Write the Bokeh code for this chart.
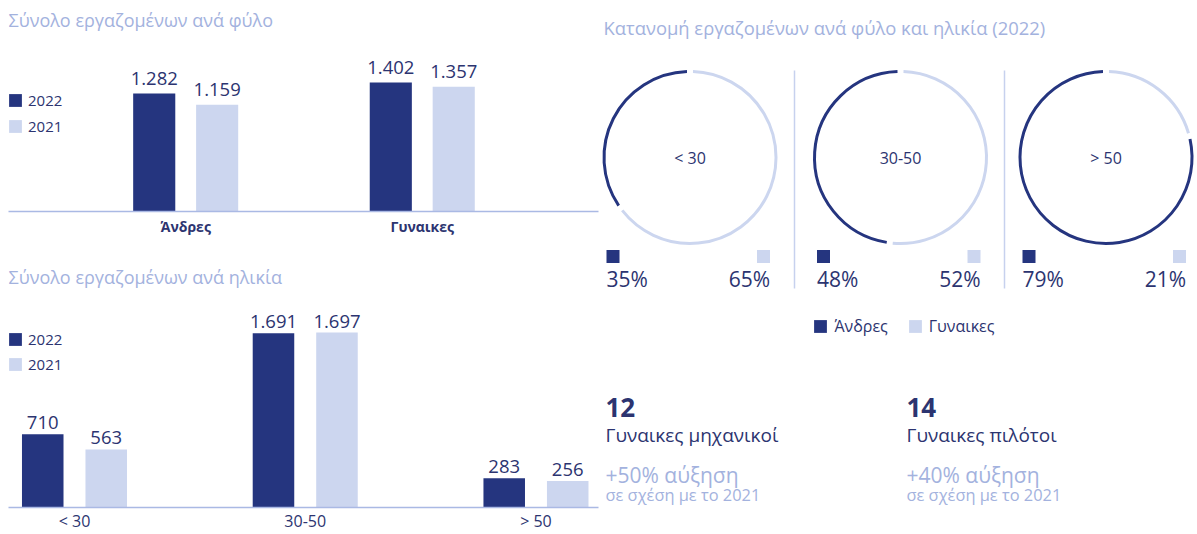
import math
from bokeh.plotting import figure
from bokeh.models import Range1d, FixedTicker, Legend, LegendItem, Label, ColumnDataSource
from bokeh.layouts import row, column
from bokeh.core.properties import value
from bokeh.embed import file_html
from bokeh.resources import INLINE

# ---------------- data ----------------
genders = ["Άνδρες", "Γυναικες"]
gender_2022 = [1282, 1402]
gender_2021 = [1159, 1357]

ages = ["< 30", "30-50", "> 50"]
age_2022 = [710, 1691, 283]
age_2021 = [563, 1697, 256]

years = ["2022", "2021"]

dist_groups = ["< 30", "30-50", "> 50"]
men_pct = [35, 48, 79]
women_pct = [65, 52, 21]
sex_labels = ["Άνδρες", "Γυναικες"]

highlight_values = [12, 14]
highlight_labels = ["Γυναικες μηχανικοί", "Γυναικες πιλότοι"]
highlight_growth = [50, 40]
compare_year = "2021"

title_gender = "Σύνολο εργαζομένων ανά φύλο"
title_age = "Σύνολο εργαζομένων ανά ηλικία"
title_dist = "Κατανομή εργαζομένων ανά φύλο και ηλικία (2022)"

# ---------------- style ----------------
FONT = "Open Sans"
DARK = "#25357f"
LIGHT = "#ccd6ef"
TEXT_DARK = "#2c3470"
TITLE = "#a3b2de"
AXIS = "#aab9e4"
SEP = "#c7d1ee"


def fmt(v):
    return f"{v:,}".replace(",", ".")


def bar_chart(cats, v22, v21, width, height, xr, y_end, off, bw, border_bottom,
              cat_size, cat_style, standoff, title, title_y, leg_loc, leg_spacing, lab_off):
    p = figure(width=width, height=height, x_range=Range1d(*xr), y_range=Range1d(0, y_end),
               output_backend="svg", toolbar_location=None,
               min_border_left=8, min_border_right=2, min_border_top=0,
               min_border_bottom=border_bottom, y_axis_location=None,
               outline_line_color=None)
    p.xgrid.visible = False
    p.ygrid.visible = False
    idx = list(range(len(cats)))
    src = ColumnDataSource(dict(
        x22=[i - off for i in idx], x21=[i + off for i in idx],
        v22=v22, v21=v21,
        t22=[fmt(v) for v in v22], t21=[fmt(v) for v in v21]))
    r22 = p.vbar(x="x22", top="v22", width=bw, source=src, fill_color=DARK, line_color=None)
    r21 = p.vbar(x="x21", top="v21", width=bw, source=src, fill_color=LIGHT, line_color=None)
    for xs, vs, ts in (("x22", "v22", "t22"), ("x21", "v21", "t21")):
        p.text(x=xs, y=vs, text=ts, source=src, text_align="center",
               text_baseline="middle", y_offset=lab_off,
               text_font=value(FONT), text_font_size="18.5px", text_color=TEXT_DARK)
    ax = p.xaxis[0]
    ax.ticker = FixedTicker(ticks=idx)
    ax.major_label_overrides = {i: c for i, c in enumerate(cats)}
    ax.major_tick_line_color = None
    ax.minor_tick_line_color = None
    ax.major_tick_out = 0
    ax.major_tick_in = 0
    ax.axis_line_color = AXIS
    ax.axis_line_width = 1.5
    ax.major_label_text_font = FONT
    ax.major_label_text_font_size = cat_size
    ax.major_label_text_font_style = cat_style
    ax.major_label_text_color = TEXT_DARK
    ax.major_label_standoff = standoff

    p.add_layout(Label(x=0, y=title_y, x_units="screen", y_units="screen",
                       text=title, text_baseline="middle", text_align="left",
                       text_font=FONT, text_font_size="18px", text_color=TITLE))
    leg = Legend(items=[LegendItem(label=years[0], renderers=[r22]),
                        LegendItem(label=years[1], renderers=[r21])],
                 location=leg_loc, orientation="vertical",
                 glyph_width=16, glyph_height=16, label_height=16,
                 spacing=leg_spacing, padding=0, margin=0, label_standoff=5,
                 border_line_alpha=0, background_fill_alpha=0,
                 label_text_font=FONT, label_text_font_size="15px",
                 label_text_color=TEXT_DARK)
    p.add_layout(leg)
    return p


# chart 1: frame page x 8..598, y 0..211
f1 = bar_chart(genders, gender_2022, gender_2021, 600, 248, (-0.749, 1.745), 2293,
               0.133, 0.178, 37, "14px", "bold", 5, title_gender, 192, (-1, 75), 6, -15)
# chart 2: frame page y 248..507
f2 = bar_chart(ages, age_2022, age_2021, 600, 286, (-0.286, 2.271), 2512,
               0.1376, 0.18, 27, "16px", "normal", 2, title_age, 230.5, (-1, 133.5), 5, -11.5)

# ---------------- right panel (1 unit = 1 px) ----------------
W3, H3 = 597, 534
f3 = figure(width=W3, height=H3, x_range=Range1d(0, W3), y_range=Range1d(0, H3),
            output_backend="svg", toolbar_location=None,
            min_border_left=0, min_border_right=0, min_border_top=0, min_border_bottom=0,
            x_axis_location=None, y_axis_location=None, outline_line_color=None)
f3.xgrid.visible = False
f3.ygrid.visible = False

cx = [89.5, 300.0, 505.5]
cy = 377
R = 86
gap = math.radians(2.0)

for i, c in enumerate(cx):
    m = men_pct[i] / 100.0
    w = women_pct[i] / 100.0
    f3.arc(x=[c], y=[cy], radius=R, start_angle=math.pi / 2 + gap,
           end_angle=math.pi / 2 + 2 * math.pi * m - gap, direction="anticlock",
           line_color=DARK, line_width=3)
    f3.arc(x=[c], y=[cy], radius=R, start_angle=math.pi / 2 - gap,
           end_angle=math.pi / 2 - 2 * math.pi * w + gap, direction="clock",
           line_color=LIGHT, line_width=3)

# separators between the donuts
sep_x = [194, 404]
f3.segment(x0=sep_x, y0=[464] * 2, x1=sep_x, y1=[246] * 2, line_color=SEP, line_width=1.5)

f3.text(x=cx, y=[cy] * 3, text=dist_groups, text_align="center", text_baseline="middle",
        text_font=value(FONT), text_font_size="16px", text_color=TEXT_DARK)

sq_y = 278
rm = f3.rect(x=[c - 77 for c in cx], y=[sq_y] * 3, width=13, height=13,
             width_units="screen", height_units="screen", fill_color=DARK, line_color=None)
rw = f3.rect(x=[c + 73.5 for c in cx], y=[sq_y] * 3, width=13, height=13,
             width_units="screen", height_units="screen", fill_color=LIGHT, line_color=None)

f3.text(x=[c - 83.5 for c in cx], y=[256] * 3, text=[f"{v}%" for v in men_pct],
        text_align="left", text_baseline="middle",
        text_font=value(FONT), text_font_size="21px", text_color=TEXT_DARK)
f3.text(x=[c + 80 for c in cx], y=[256] * 3, text=[f"{v}%" for v in women_pct],
        text_align="right", text_baseline="middle",
        text_font=value(FONT), text_font_size="21px", text_color=TEXT_DARK)

leg3 = Legend(items=[LegendItem(label=sex_labels[0], renderers=[rm]),
                     LegendItem(label=sex_labels[1], renderers=[rw])],
              location=(212.4, 196.6), orientation="horizontal",
              glyph_width=16, glyph_height=16, label_height=16,
              spacing=19, padding=0, margin=0, label_standoff=6,
              border_line_alpha=0, background_fill_alpha=0,
              label_text_font=FONT, label_text_font_size="16px",
              label_text_color=TEXT_DARK)
f3.add_layout(leg3)

f3.add_layout(Label(x=3, y=507, text=title_dist, text_baseline="middle", text_align="left",
                    text_font=FONT, text_font_size="18.4px", text_color=TITLE))

bx = [5, 306]
f3.text(x=bx, y=[127] * 2, text=[str(v) for v in highlight_values], text_baseline="middle",
        text_font=value(FONT), text_font_size="26px", text_font_style="bold", text_color=TEXT_DARK)
f3.text(x=bx, y=[99.5] * 2, text=highlight_labels, text_baseline="middle",
        text_font=value(FONT), text_font_size="19px", text_color=TEXT_DARK)
f3.text(x=bx, y=[59.5] * 2, text=[f"+{v}% αύξηση" for v in highlight_growth], text_baseline="middle",
        text_font=value(FONT), text_font_size="21px", text_color=TITLE)
f3.text(x=bx, y=[40] * 2, text=[f"σε σχέση με το {compare_year}"] * 2, text_baseline="middle",
        text_font=value(FONT), text_font_size="16.4px", text_color=TITLE)

layout = row(column(f1, f2, spacing=0), f3, spacing=0)
open("out.html", "w").write(file_html(layout, INLINE))
